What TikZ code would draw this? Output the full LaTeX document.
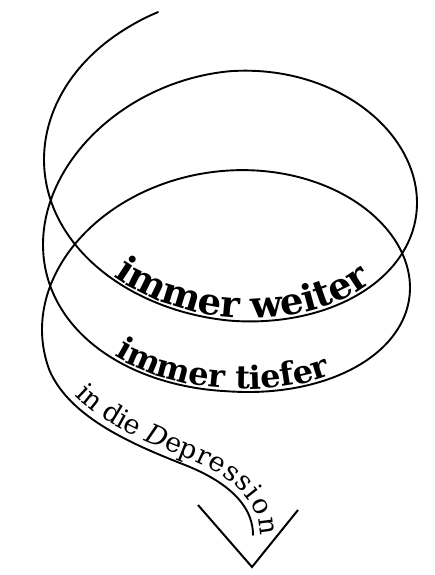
\documentclass[tikz,border=0pt]{standalone}
\usepackage{fontspec}
\setmainfont{DejaVu Serif}
\usetikzlibrary{decorations.text}
\begin{document}
\begin{tikzpicture}[x=1pt,y=-1pt,
  declare function={
    hx(\q)=234.25-4*\q+(189.75-3*\q)*cos(360*\q);
    hr(\q)=146-14.5*min(max((\q-1.25)*2,0),1)-8*min(max((0.75-\q)/0.4,0),1);
    hy(\q)=114+85*\q-hr(\q)*sin(360*\q)+3*cos(720*\q);
  },
  spiral/.style={line width=1.9pt, line cap=round, line join=round},
  vtip/.style={line width=2pt, line cap=butt, line join=miter},
]
\useasboundingbox[fill=white] (0,0) rectangle (435,575);
% named points
\coordinate (t0) at ({hx(2.55)},{hy(2.55)});
\coordinate (ta) at (70,418);
\coordinate (tb) at (134,445);
\coordinate (t1) at (185,465);
\coordinate (tc) at (218,478);
\coordinate (td) at (253,500);
\coordinate (t2) at (253,535);
\coordinate (t3) at (253,565);
\coordinate (vl) at (198,505);
\coordinate (vb) at (252,567);
\coordinate (vr) at (298,510);
% spiral
\draw[spiral] plot[domain=0.315:2.55, samples=300, smooth, variable=\q] ({hx(\q)},{hy(\q)})
  .. controls (ta) and (tb) .. (t1) .. controls (tc) and (td) .. (t2);
% arrow head
\draw[vtip] (vl) -- (vb) -- (vr);
% texts
\path[decorate, decoration={text along path, text align=center, raise=3pt,
  text={|\bfseries\fontsize{37}{37}\selectfont|immer weiter}}]
  plot[domain=0.58:0.96, samples=60, smooth, variable=\q] ({hx(\q)},{hy(\q)});
\path[decorate, decoration={text along path, text align=center, raise=3pt,
  text={|\bfseries\fontsize{32}{32}\selectfont|immer tiefer}}]
  plot[domain=1.56:1.94, samples=60, smooth, variable=\q] ({hx(\q)},{hy(\q)});
\path[decorate, decoration={text along path, text align={left, left indent=33pt}, raise=7pt,
  text={|\fontsize{27}{27}\selectfont|in die |\fontsize{27}{27}\selectfont\itshape|D|\fontsize{27}{27}\selectfont\upshape|epression}}]
  (t0) .. controls (ta) and (tb) .. (t1) .. controls (tc) and (td) .. (t2) -- (t3);
\end{tikzpicture}
\end{document}
